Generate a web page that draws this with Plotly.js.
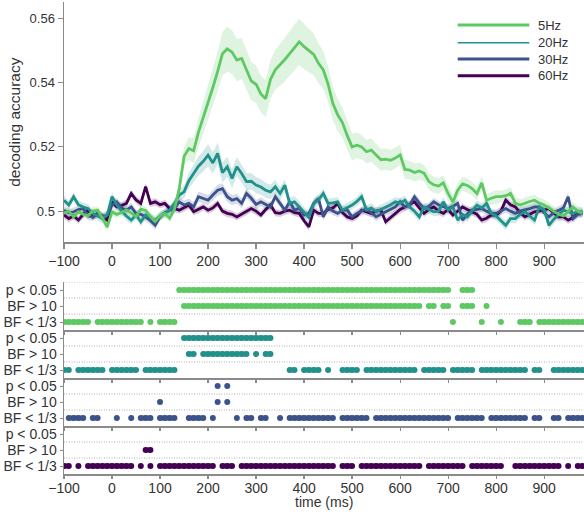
<!DOCTYPE html>
<html>
<head>
<meta charset="utf-8">
<script src="https://cdn.plot.ly/plotly-3.0.1.min.js"></script>
<style>
  html, body { margin: 0; padding: 0; background: #fff; }
  #chart { width: 584px; height: 512px; }
</style>
</head>
<body>
<div id="chart"></div>
<script>
// Time axis: one sample every 10 ms from -100 ms
const T_START = -100;
const T_STEP = 10;

// Mean decoding accuracy per stimulation frequency
const acc5Hz = [
  0.4995, 0.5000, 0.4982, 0.4998, 0.4990, 0.4986, 0.5000, 0.5003, 0.4978, 0.4950,
  0.4998, 0.4990, 0.4996, 0.5004, 0.4994, 0.4983, 0.5006, 0.5002, 0.4983, 0.4968,
  0.4985, 0.4993, 0.4978, 0.5006, 0.5070, 0.5170, 0.5195, 0.5188, 0.5245, 0.5290,
  0.5335, 0.5385, 0.5435, 0.5490, 0.5505, 0.5495, 0.5470, 0.5475, 0.5440, 0.5405,
  0.5395, 0.5365, 0.5350, 0.5410, 0.5440, 0.5455, 0.5472, 0.5490, 0.5510, 0.5527,
  0.5512, 0.5500, 0.5488, 0.5460, 0.5440, 0.5395, 0.5335, 0.5300, 0.5275, 0.5235,
  0.5200, 0.5205, 0.5200, 0.5185, 0.5190, 0.5175, 0.5160, 0.5162, 0.5158, 0.5165,
  0.5175, 0.5130, 0.5128, 0.5120, 0.5125, 0.5118, 0.5092, 0.5082, 0.5078, 0.5088,
  0.5055, 0.5028, 0.5065, 0.5085, 0.5080, 0.5070, 0.5055, 0.5088, 0.5034, 0.5040,
  0.5045, 0.5045, 0.5048, 0.5055, 0.5025, 0.5019, 0.5025, 0.5030, 0.5034, 0.5025,
  0.5019, 0.5010, 0.5000, 0.4990, 0.4985, 0.5000, 0.5013, 0.5000, 0.4993
];
const acc20Hz = [
  0.5034, 0.5019, 0.5045, 0.5020, 0.5013, 0.5008, 0.4993, 0.4985, 0.4977, 0.4988,
  0.5045, 0.5019, 0.5000, 0.4985, 0.4972, 0.4988, 0.4967, 0.4988, 0.4980, 0.4972,
  0.4985, 0.4993, 0.5003, 0.5024, 0.5050, 0.5060, 0.5095, 0.5117, 0.5140, 0.5155,
  0.5174, 0.5150, 0.5180, 0.5120, 0.5138, 0.5102, 0.5138, 0.5117, 0.5092, 0.5093,
  0.5081, 0.5075, 0.5065, 0.5060, 0.5076, 0.5055, 0.5081, 0.5024, 0.5029, 0.5013,
  0.4995, 0.4980, 0.5024, 0.5035, 0.5055, 0.5024, 0.5026, 0.5029, 0.5003, 0.5010,
  0.5019, 0.5030, 0.5045, 0.5003, 0.5010, 0.4998, 0.5005, 0.5013, 0.5020, 0.5029,
  0.5025, 0.5034, 0.5013, 0.5000, 0.4982, 0.5013, 0.5005, 0.4998, 0.5000, 0.5029,
  0.5003, 0.5013, 0.4972, 0.4990, 0.4982, 0.5000, 0.5019, 0.5010, 0.5024, 0.4993,
  0.4985, 0.4970, 0.4956, 0.4977, 0.4977, 0.4990, 0.4998, 0.4985, 0.4972, 0.5013,
  0.5005, 0.4956, 0.4975, 0.4988, 0.5003, 0.4998, 0.4993, 0.4998, 0.4998
];
const acc30Hz = [
  0.5003, 0.4995, 0.4998, 0.5005, 0.5008, 0.4985, 0.4982, 0.4993, 0.4982, 0.4988,
  0.5019, 0.5029, 0.5010, 0.5003, 0.5013, 0.4993, 0.4990, 0.4982, 0.4970, 0.4956,
  0.4982, 0.4995, 0.5003, 0.5008, 0.5029, 0.5019, 0.5024, 0.5013, 0.5045, 0.5040,
  0.5034, 0.5050, 0.5065, 0.5070, 0.5045, 0.5034, 0.5039, 0.5024, 0.5055, 0.5040,
  0.5021, 0.5029, 0.5020, 0.5013, 0.5045, 0.5025, 0.5003, 0.5029, 0.5003, 0.5010,
  0.4988, 0.4993, 0.5024, 0.5039, 0.4982, 0.5013, 0.5000, 0.4993, 0.5003, 0.5003,
  0.4982, 0.4993, 0.5000, 0.5008, 0.4995, 0.4982, 0.4990, 0.4998, 0.5005, 0.5013,
  0.5029, 0.5013, 0.5020, 0.5045, 0.5025, 0.5008, 0.5015, 0.5029, 0.5020, 0.5013,
  0.5008, 0.5015, 0.5024, 0.4972, 0.4990, 0.5003, 0.5005, 0.5008, 0.5000, 0.4993,
  0.4993, 0.5000, 0.5008, 0.5000, 0.4993, 0.5000, 0.5003, 0.5008, 0.5013, 0.5013,
  0.4995, 0.4982, 0.4995, 0.5003, 0.5010, 0.5045, 0.4977, 0.4990, 0.4993
];
const acc60Hz = [
  0.4988, 0.4977, 0.4985, 0.4972, 0.4990, 0.5003, 0.4982, 0.4993, 0.4985, 0.4972,
  0.5029, 0.5013, 0.5018, 0.5024, 0.5055, 0.5035, 0.5024, 0.5076, 0.5024, 0.5029,
  0.5020, 0.5024, 0.5008, 0.5008, 0.5003, 0.5010, 0.5019, 0.4998, 0.5005, 0.5013,
  0.5003, 0.5010, 0.5024, 0.5000, 0.4993, 0.4990, 0.4982, 0.4990, 0.4998, 0.5008,
  0.5000, 0.4988, 0.5005, 0.5019, 0.4995, 0.4993, 0.5000, 0.5003, 0.4995, 0.4993,
  0.4970, 0.4951, 0.5003, 0.4993, 0.4993, 0.5005, 0.5010, 0.5024, 0.4995, 0.4982,
  0.4977, 0.4985, 0.5003, 0.4998, 0.4993, 0.5000, 0.5003, 0.4967, 0.4980, 0.4993,
  0.5005, 0.5013, 0.5020, 0.5029, 0.5010, 0.4993, 0.5005, 0.5013, 0.5000, 0.4993,
  0.5005, 0.4988, 0.5000, 0.5013, 0.5005, 0.4998, 0.4990, 0.4972, 0.4978, 0.4988,
  0.4988, 0.5000, 0.5034, 0.5020, 0.5013, 0.4995, 0.4982, 0.4990, 0.4998, 0.5000,
  0.5005, 0.5008, 0.4995, 0.4982, 0.4982, 0.4972, 0.4980, 0.4993, 0.4995
];

// Standard error of the mean per frequency
const sem5Hz = [
  0.0013, 0.0012, 0.0012, 0.0013, 0.0012, 0.0012, 0.0013, 0.0012, 0.0013, 0.0014,
  0.0013, 0.0012, 0.0012, 0.0013, 0.0012, 0.0012, 0.0013, 0.0012, 0.0012, 0.0013,
  0.0013, 0.0012, 0.0013, 0.0014, 0.0020, 0.0030, 0.0035, 0.0040, 0.0045, 0.0050,
  0.0055, 0.0058, 0.0062, 0.0068, 0.0070, 0.0068, 0.0066, 0.0064, 0.0062, 0.0060,
  0.0058, 0.0057, 0.0058, 0.0060, 0.0062, 0.0065, 0.0068, 0.0070, 0.0072, 0.0072,
  0.0070, 0.0068, 0.0066, 0.0062, 0.0058, 0.0055, 0.0052, 0.0050, 0.0047, 0.0045,
  0.0042, 0.0040, 0.0038, 0.0037, 0.0036, 0.0035, 0.0034, 0.0033, 0.0033, 0.0032,
  0.0031, 0.0030, 0.0029, 0.0028, 0.0027, 0.0026, 0.0026, 0.0025, 0.0025, 0.0024,
  0.0024, 0.0023, 0.0023, 0.0022, 0.0022, 0.0021, 0.0021, 0.0021, 0.0020, 0.0020,
  0.0020, 0.0019, 0.0019, 0.0019, 0.0018, 0.0018, 0.0018, 0.0018, 0.0017, 0.0017,
  0.0017, 0.0017, 0.0016, 0.0016, 0.0016, 0.0016, 0.0016, 0.0015, 0.0015
];
const sem20Hz = [
  0.0014, 0.0013, 0.0014, 0.0013, 0.0013, 0.0014, 0.0013, 0.0013, 0.0014, 0.0015,
  0.0014, 0.0013, 0.0013, 0.0014, 0.0013, 0.0013, 0.0014, 0.0013, 0.0014, 0.0013,
  0.0013, 0.0014, 0.0014, 0.0015, 0.0017, 0.0020, 0.0024, 0.0027, 0.0030, 0.0032,
  0.0034, 0.0034, 0.0033, 0.0032, 0.0031, 0.0030, 0.0029, 0.0028, 0.0027, 0.0026,
  0.0025, 0.0024, 0.0023, 0.0022, 0.0021, 0.0020, 0.0019, 0.0018, 0.0018, 0.0017,
  0.0017, 0.0016, 0.0016, 0.0016, 0.0016, 0.0015, 0.0015, 0.0015, 0.0015, 0.0015,
  0.0015, 0.0014, 0.0015, 0.0014, 0.0015, 0.0014, 0.0015, 0.0014, 0.0015, 0.0014,
  0.0015, 0.0014, 0.0015, 0.0014, 0.0015, 0.0014, 0.0015, 0.0014, 0.0015, 0.0014,
  0.0015, 0.0014, 0.0015, 0.0014, 0.0015, 0.0014, 0.0015, 0.0014, 0.0015, 0.0014,
  0.0015, 0.0014, 0.0015, 0.0014, 0.0015, 0.0014, 0.0015, 0.0014, 0.0015, 0.0014,
  0.0015, 0.0014, 0.0015, 0.0014, 0.0015, 0.0014, 0.0015, 0.0014, 0.0015
];
const sem30Hz = [
  0.0012, 0.0012, 0.0013, 0.0012, 0.0012, 0.0013, 0.0012, 0.0012, 0.0013, 0.0012,
  0.0012, 0.0013, 0.0012, 0.0012, 0.0013, 0.0012, 0.0012, 0.0013, 0.0012, 0.0013,
  0.0012, 0.0012, 0.0013, 0.0013, 0.0014, 0.0014, 0.0015, 0.0015, 0.0016, 0.0016,
  0.0016, 0.0016, 0.0017, 0.0017, 0.0016, 0.0016, 0.0015, 0.0015, 0.0015, 0.0014,
  0.0014, 0.0014, 0.0013, 0.0013, 0.0013, 0.0013, 0.0012, 0.0013, 0.0012, 0.0012,
  0.0013, 0.0012, 0.0012, 0.0013, 0.0012, 0.0012, 0.0013, 0.0012, 0.0012, 0.0013,
  0.0012, 0.0012, 0.0013, 0.0012, 0.0012, 0.0013, 0.0012, 0.0012, 0.0013, 0.0012,
  0.0012, 0.0013, 0.0012, 0.0012, 0.0013, 0.0012, 0.0012, 0.0013, 0.0012, 0.0012,
  0.0013, 0.0012, 0.0012, 0.0013, 0.0012, 0.0012, 0.0013, 0.0012, 0.0012, 0.0013,
  0.0012, 0.0012, 0.0013, 0.0012, 0.0012, 0.0013, 0.0012, 0.0012, 0.0013, 0.0012,
  0.0012, 0.0013, 0.0012, 0.0012, 0.0013, 0.0012, 0.0012, 0.0013, 0.0012
];
const sem60Hz = [
  0.0011, 0.0012, 0.0011, 0.0011, 0.0012, 0.0011, 0.0011, 0.0012, 0.0011, 0.0011,
  0.0012, 0.0011, 0.0011, 0.0012, 0.0011, 0.0011, 0.0012, 0.0011, 0.0011, 0.0012,
  0.0011, 0.0011, 0.0012, 0.0011, 0.0011, 0.0012, 0.0011, 0.0011, 0.0012, 0.0011,
  0.0011, 0.0012, 0.0011, 0.0011, 0.0012, 0.0011, 0.0011, 0.0012, 0.0011, 0.0011,
  0.0012, 0.0011, 0.0011, 0.0012, 0.0011, 0.0011, 0.0012, 0.0011, 0.0011, 0.0012,
  0.0011, 0.0011, 0.0012, 0.0011, 0.0011, 0.0012, 0.0011, 0.0011, 0.0012, 0.0011,
  0.0011, 0.0012, 0.0011, 0.0011, 0.0012, 0.0011, 0.0011, 0.0012, 0.0011, 0.0011,
  0.0012, 0.0011, 0.0011, 0.0012, 0.0011, 0.0011, 0.0012, 0.0011, 0.0011, 0.0012,
  0.0011, 0.0011, 0.0012, 0.0011, 0.0011, 0.0012, 0.0011, 0.0011, 0.0012, 0.0011,
  0.0011, 0.0012, 0.0011, 0.0011, 0.0012, 0.0011, 0.0011, 0.0012, 0.0011, 0.0011,
  0.0012, 0.0011, 0.0011, 0.0012, 0.0011, 0.0011, 0.0012, 0.0011, 0.0011
];

// Time windows (ms, inclusive) where each test passes
const p05_5Hz   = [[140, 700], [730, 750]];
const bf10_5Hz  = [[150, 610], [620, 640], [660, 670], [690, 700], [730, 740], [750, 750], [780, 780]];
const bf3_5Hz   = [[-100, -50], [-30, 60], [80, 80], [100, 130], [710, 710], [770, 770], [810, 810], [850, 870], [890, 980]];

const p05_20Hz  = [[150, 330]];
const bf10_20Hz = [[160, 170], [190, 280], [300, 300], [320, 330]];
const bf3_20Hz  = [[-100, -90], [-70, -20], [0, 40], [50, 50], [70, 80], [90, 130], [370, 380], [400, 430], [450, 450],
                   [480, 510], [530, 600], [610, 630], [650, 650], [660, 690], [710, 710], [720, 750], [770, 860],
                   [880, 890], [920, 920], [930, 940], [950, 980]];

const p05_30Hz  = [[220, 220], [240, 240]];
const bf10_30Hz = [[100, 100], [220, 220], [240, 240]];
const bf3_30Hz  = [[-90, -60], [-40, -30], [10, 10], [40, 40], [60, 80], [100, 130], [160, 180], [190, 190], [210, 210],
                   [260, 260], [280, 290], [310, 320], [350, 350], [370, 390], [400, 430], [440, 440], [450, 460],
                   [480, 490], [500, 530], [550, 700], [720, 770], [790, 860], [880, 890], [920, 930], [950, 980]];

const p05_60Hz  = [];
const bf10_60Hz = [[70, 80]];
const bf3_60Hz  = [[-100, -90], [-70, -70], [-50, 40], [60, 60], [80, 80], [100, 150], [160, 210], [230, 250], [270, 340],
                   [350, 360], [370, 390], [400, 460], [480, 500], [520, 600], [610, 640], [660, 730], [750, 810],
                   [840, 930], [950, 950], [970, 980]];

const freqLabels = ['5Hz', '20Hz', '30Hz', '60Hz'];
const rowLabels = ['BF < 1/3', 'BF > 10', 'p < 0.05'];
const xTicks = [-100, 0, 100, 200, 300, 400, 500, 600, 700, 800, 900];
const yTicks = [0.5, 0.52, 0.54, 0.56];
const yTickText = ['0.5', '0.52', '0.54', '0.56'];

// ---- drawing ----
const times = acc5Hz.map((_, i) => T_START + i * T_STEP);
const colors = ['#5ec962', '#21918c', '#3b528b', '#440154'];
const bandColors = ['rgba(94,201,98,0.2)', 'rgba(33,145,140,0.2)', 'rgba(59,82,139,0.2)', 'rgba(68,1,84,0.2)'];
const means = [acc5Hz, acc20Hz, acc30Hz, acc60Hz];
const sems = [sem5Hz, sem20Hz, sem30Hz, sem60Hz];
const testRows = [
  [bf3_5Hz, bf10_5Hz, p05_5Hz],
  [bf3_20Hz, bf10_20Hz, p05_20Hz],
  [bf3_30Hz, bf10_30Hz, p05_30Hz],
  [bf3_60Hz, bf10_60Hz, p05_60Hz]
];

const traces = [];
const drawOrder = [3, 2, 1, 0];

// error bands (mean +/- sem)
drawOrder.forEach(k => {
  const up = means[k].map((m, i) => m + sems[k][i]);
  const lo = means[k].map((m, i) => m - sems[k][i]);
  traces.push({
    x: times.concat(times.slice().reverse()),
    y: up.concat(lo.slice().reverse()),
    type: 'scatter', mode: 'lines', fill: 'toself',
    fillcolor: bandColors[k], line: { width: 0 },
    hoverinfo: 'skip', showlegend: false, xaxis: 'x', yaxis: 'y'
  });
});
// mean lines
drawOrder.forEach(k => {
  traces.push({
    x: times, y: means[k], type: 'scatter', mode: 'lines',
    line: { color: colors[k], width: 2.8 },
    name: freqLabels[k], showlegend: false, xaxis: 'x', yaxis: 'y'
  });
});
// significance markers: one dot per significant sample, consecutive samples joined
testRows.forEach((rows, k) => {
  rows.forEach((windows, r) => {
    const ys = times.map(t => windows.some(w => t >= w[0] && t <= w[1]) ? r : null);
    traces.push({
      x: times, y: ys, type: 'scatter', mode: 'lines+markers', connectgaps: false,
      line: { color: colors[k], width: 5 },
      marker: { color: colors[k], size: 6, line: { width: 0 } },
      hoverinfo: 'skip', showlegend: false,
      xaxis: 'x' + (k + 2), yaxis: 'y' + (k + 2)
    });
  });
});

// plot area spans 474 px from the top; the bottom margin holds tick labels and the x title
const PLOT_H = 474;
const py = px => 1 - px / PLOT_H;
const axisGray = '#8a8a8a';
const textColor = '#333333';
const FONT = 'Liberation Sans, Arial, Helvetica, sans-serif';

const layout = {
  width: 584, height: 512,
  margin: { l: 64, r: 0, t: 0, b: 512 - PLOT_H },
  paper_bgcolor: '#fff', plot_bgcolor: 'rgba(0,0,0,0)',
  font: { family: FONT, color: textColor, size: 13 },
  showlegend: false,
  xaxis: {
    domain: [0, 1], anchor: 'y', range: [-100, 983],
    showline: true, linecolor: axisGray, linewidth: 1.5,
    ticks: 'outside', ticklen: 5, tickwidth: 1.2, tickcolor: axisGray,
    tickmode: 'array', tickvals: xTicks, tickfont: { size: 14, color: textColor },
    showgrid: false, zeroline: false
  },
  yaxis: {
    domain: [py(242.3), py(2)], anchor: 'x', range: [0.4903, 0.5651],
    showline: true, linecolor: axisGray, linewidth: 1.5,
    ticks: 'outside', ticklen: 5, tickwidth: 1.2, tickcolor: axisGray,
    tickmode: 'array', tickvals: yTicks, ticktext: yTickText,
    tickfont: { size: 13, color: textColor },
    showgrid: false, zeroline: false,
    title: { text: 'decoding accuracy', font: { size: 15.5, color: textColor }, standoff: 5 }
  },
  shapes: [],
  annotations: [{
    // x-axis title of the bottom panel
    xref: 'paper', yref: 'paper', x: 0.5, y: py(512),
    xanchor: 'center', yanchor: 'bottom', showarrow: false,
    text: 'time (ms)', font: { size: 14, color: textColor }
  }]
};

const panelTops = [282, 330, 378, 426];
panelTops.forEach((top, k) => {
  const n = k + 2;
  const isLast = k === panelTops.length - 1;
  layout['xaxis' + n] = {
    domain: [0, 1], anchor: 'y' + n, range: [-100, 983],
    showline: true, linecolor: axisGray, linewidth: 2,
    ticks: 'outside', ticklen: 3, tickwidth: 1.2, tickcolor: axisGray,
    tickmode: 'array', tickvals: xTicks, showticklabels: isLast,
    ticklabelstandoff: isLast ? -3 : 0,
    tickfont: { size: 14, color: textColor },
    showgrid: false, zeroline: false
  };
  layout['yaxis' + n] = {
    domain: [py(top + 48), py(top)], anchor: 'x' + n, range: [-0.5, 2.5],
    showline: true, linecolor: axisGray, linewidth: 1.5,
    ticks: 'outside', ticklen: 3, tickwidth: 1, tickcolor: axisGray,
    tickmode: 'array', tickvals: [0, 1, 2], ticktext: rowLabels,
    tickfont: { size: 14, color: textColor },
    showgrid: false, zeroline: false, fixedrange: true
  };
  const seps = k === 0 ? [0.5, 1.5, 2.5] : [0.5, 1.5];
  seps.forEach(s => {
    layout.shapes.push({
      type: 'line', layer: 'below', xref: 'paper', yref: 'y' + n,
      x0: 0, x1: 1, y0: s, y1: s,
      line: { color: '#b0b0b0', width: 1, dash: '1px,1.5px' }
    });
  });
});

// legend: sample line + label per frequency
const legendRows = [25, 42.7, 59, 75.7];
const legendWidths = [3, 1.6, 3, 3];
freqLabels.forEach((lab, k) => {
  layout.shapes.push({
    type: 'line', xref: 'paper', yref: 'paper',
    x0: (457.7 - 64) / 520, x1: (529.3 - 64) / 520, y0: py(legendRows[k]), y1: py(legendRows[k]),
    line: { color: colors[k], width: legendWidths[k] }
  });
  layout.annotations.push({
    xref: 'paper', yref: 'paper', x: (536 - 64) / 520, y: py(legendRows[k]),
    xanchor: 'left', yanchor: 'middle', showarrow: false,
    text: lab, font: { size: 13, color: textColor }
  });
});

Plotly.newPlot('chart', traces, layout, { displayModeBar: false, staticPlot: true });
</script>
</body>
</html>
